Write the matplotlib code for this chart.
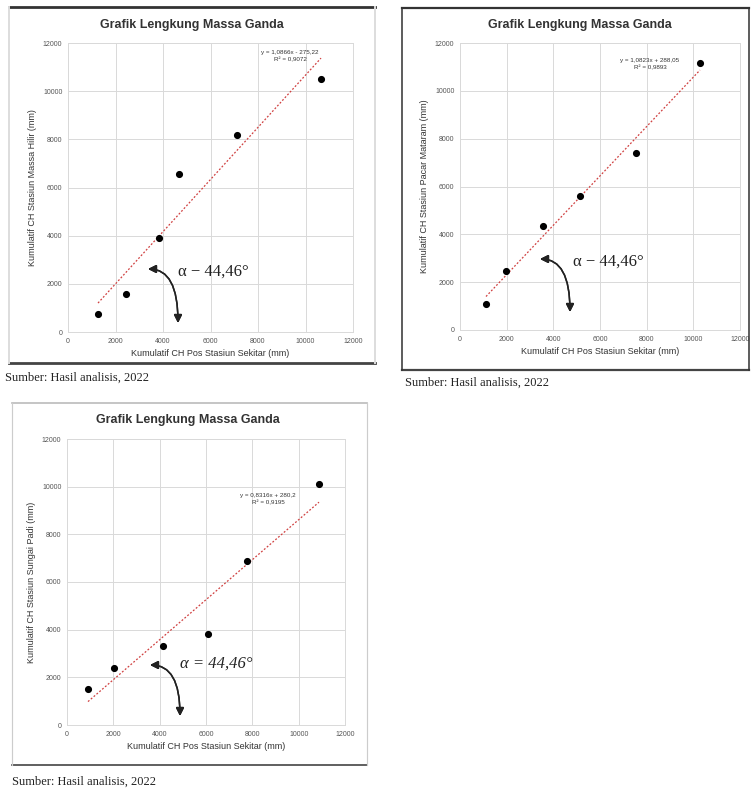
import matplotlib
matplotlib.use('Agg')

import matplotlib.pyplot as plt
import numpy as np
from matplotlib.lines import Line2D

W, H = 751, 793

# data (mm)
x1 = [1263, 2442, 3832, 4674, 7116, 10653]
y1 = [747, 1578, 3903, 6560, 8180, 10505]
x2 = [1114, 1971, 3557, 5143, 7543, 10286]
y2 = [1087, 2467, 4348, 5603, 7401, 11164]
x3 = [906, 2029, 4144, 6086, 7770, 10878]
y3 = [1510, 2392, 3315, 3818, 6881, 10112]

ticks = [0, 2000, 4000, 6000, 8000, 10000, 12000]
title = 'Grafik Lengkung Massa Ganda'
xlabel = 'Kumulatif CH Pos Stasiun Sekitar (mm)'
ylabels = ['Kumulatif CH Stasiun Massa Hilir (mm)',
           'Kumulatif CH Stasiun Pacar Mataram (mm)',
           'Kumulatif CH Stasiun Sungai Padi (mm)']
equations = ['y = 1,0866x - 275,22\nR² = 0,9072',
             'y = 1,0823x + 288,05\nR² = 0,9893',
             'y = 0,8316x + 280,2\nR² = 0,9195']
alpha_txt = ['α − 44,46°', 'α − 44,46°', 'α = 44,46°']
source = 'Sumber: Hasil analisis, 2022'


def fx(x):
    return x / W


def fy(y):
    return 1 - y / H


fig = plt.figure(figsize=(W / 100, H / 100), dpi=100)
plt.rcParams['font.family'] = ['Liberation Sans', 'DejaVu Sans']

# panel frames (left, top, right, bottom in image pixels)
frames = [(9, 7, 375, 363), (402, 8, 749, 370), (12, 403, 367, 765)]
frame_style = [('#333333', 2.0, '#dddddd'), ('#333333', 1.6, '#333333'),
               ('#bbbbbb', 1.2, '#cccccc')]
for (l, t, r, b), (c, lw, side) in zip(frames, frame_style):
    fig.add_artist(Line2D([fx(l), fx(r)], [fy(t), fy(t)], color=c, lw=lw))
    fig.add_artist(Line2D([fx(l), fx(r)], [fy(b), fy(b)], color='#444444', lw=lw))
    fig.add_artist(Line2D([fx(l), fx(l)], [fy(t), fy(b)], color=side, lw=lw * 0.7))
    fig.add_artist(Line2D([fx(r), fx(r)], [fy(t), fy(b)], color=side, lw=lw * 0.7))

# axes areas (left, top, right, bottom in image pixels)
boxes = [(68, 43, 353, 332), (460, 43, 740, 330), (67, 439, 345, 725)]
data = [(x1, y1), (x2, y2), (x3, y3)]
eq_pos = [(290, 56), (650, 64), (268, 499)]
alpha_pos = [(178, 272), (573, 262), (180, 664)]
arrows = [((148, 269), (178, 323)), ((540, 259), (570, 312)), ((150, 665), (180, 716))]
title_pos = [(192, 25), (580, 25), (188, 420)]
source_pos = [(5, 378), (405, 383), (12, 782)]

for i in range(3):
    l, t, r, b = boxes[i]
    ax = fig.add_axes([fx(l), fy(b), (r - l) / W, (b - t) / H])
    x, y = data[i]
    ax.scatter(x, y, s=17, color='black', zorder=3)
    k, c0 = np.polyfit(x, y, 1)
    xs = np.array([min(x), max(x)])
    ax.plot(xs, k * xs + c0, color='#d04040', lw=0.9, ls=(0, (1.5, 1.5)), zorder=2)
    ax.set_xlim(0, 12000)
    ax.set_ylim(0, 12000)
    ax.set_xticks(ticks)
    ax.set_yticks(ticks)
    ax.set_xticklabels([str(v) for v in ticks])
    ax.set_yticklabels([str(v) for v in ticks])
    ax.tick_params(labelsize=5, colors='#555555', length=0, pad=4)
    ax.grid(True, color='#d9d9d9', lw=0.7)
    ax.set_axisbelow(True)
    for s in ax.spines.values():
        s.set_color('#d9d9d9')
        s.set_linewidth(0.7)
    ax.set_xlabel(xlabel, fontsize=6.5, color='#333333', labelpad=3)
    ax.set_ylabel(ylabels[i], fontsize=6.5, color='#333333', labelpad=4)

    ex, ey = eq_pos[i]
    fig.text(fx(ex), fy(ey), equations[i], fontsize=4.5, ha='center', va='center',
             color='#333333', linespacing=1.3)

    tx, tyy = title_pos[i]
    fig.text(fx(tx), fy(tyy), title, fontsize=9, fontweight='bold', ha='center',
             va='center', color='#333333')

    ax_, ay_ = alpha_pos[i]
    fig.text(fx(ax_), fy(ay_), alpha_txt[i], fontsize=12, ha='left', va='center',
             family=['Liberation Serif', 'DejaVu Serif'],
             style='italic' if i == 2 else 'normal', color='#222222')

    # curved double-headed arrow marking the angle
    (sx, sy), (ex2, ey2) = arrows[i]
    fig.add_artist(plt.annotate('', xy=(fx(sx), fy(sy)), xytext=(fx(ex2), fy(ey2)),
                                xycoords='figure fraction', textcoords='figure fraction',
                                arrowprops=dict(arrowstyle='<|-|>', color='#222222', lw=1.1,
                                                mutation_scale=12, shrinkA=0, shrinkB=0,
                                                connectionstyle='angle3,angleA=90,angleB=0')))

    px, py = source_pos[i]
    fig.text(fx(px), fy(py), source, fontsize=9, ha='left', va='center',
             family=['Liberation Serif', 'DejaVu Serif'], color='#222222')

fig.savefig('out.png', dpi=100)
